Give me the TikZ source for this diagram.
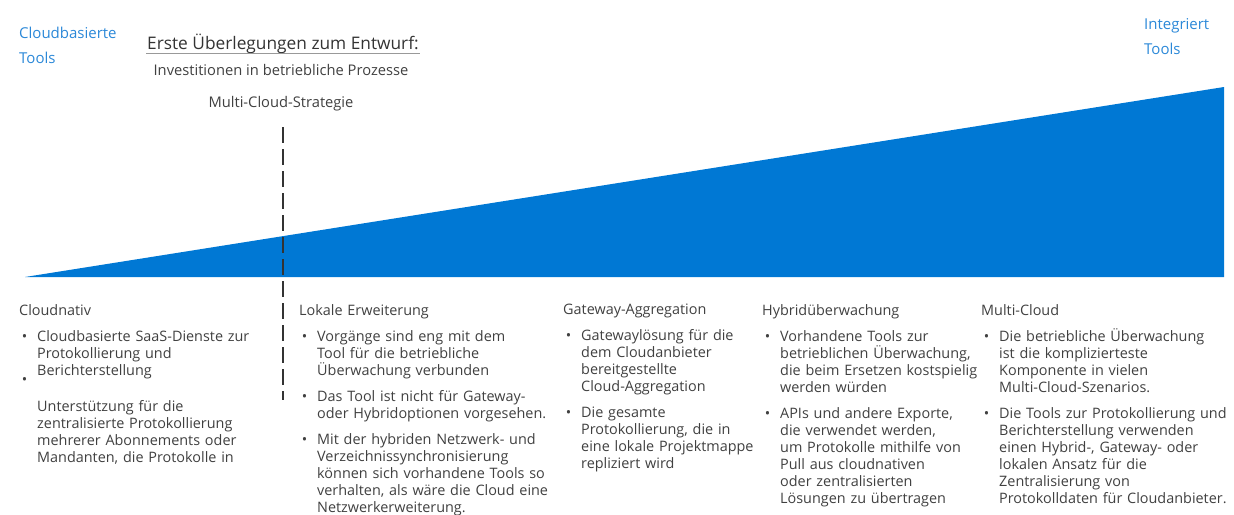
\documentclass[tikz,border=0pt]{standalone}
\usepackage{fontspec}
\setmainfont{Open Sans}
\usepackage{enumitem}
\definecolor{azblau}{HTML}{0078D4}
\definecolor{hellblau}{HTML}{2B88D8}
\definecolor{textgrau}{HTML}{404040}
\definecolor{dunkel}{HTML}{333333}
\setlist[itemize]{label=\textbullet,leftmargin=18pt,labelsep=10pt,
  topsep=9pt,partopsep=0pt,parsep=0pt,itemsep=9pt}
\newcommand{\spalte}[2]{%
  #1
  \begin{itemize}
    #2
  \end{itemize}
}

\begin{document}
\begin{tikzpicture}[x=1pt,y=-1pt,
      every node/.style={inner sep=0pt,text=textgrau},
      blau/.style={text=hellblau,anchor=north west,align=left,
        font=\fontsize{15}{25}\selectfont},
      spalte/.style={anchor=north west,align=left,
        font=\fontsize{14.4}{17}\selectfont},
      unter/.style={anchor=base,font=\fontsize{14.7}{17}\selectfont},
      grenze/.style={draw=dunkel,line width=2.6pt,dash pattern=on 16pt off 6pt}
    ]
      \useasboundingbox (0,0) rectangle (1234,514);
      % Keil
      \fill[azblau] (25,277) -- (1224,277) -- (1224,87) -- cycle;

      % Beschriftung oben
      \node[blau] (cloudtools) at (19,27) {Cloudbasierte\\Tools};
      \node[blau] (inttools) at (1144,18) {Integriert\\Tools};
      \node[anchor=base west,text=dunkel,font=\fontsize{17.3}{20}\selectfont]
        (entwurf) at (147,49) {Erste Überlegungen zum Entwurf:};
      \draw[gray!80,line width=1.6pt] ([xshift=-1pt,yshift=-4.5pt]entwurf.base west)
        -- ([xshift=1pt,yshift=-4.5pt]entwurf.base east);
      \node[unter] (invest) at (281,75) {Investitionen in betriebliche Prozesse};
      \node[unter] (strategie) at (281,107) {Multi-Cloud-Strategie};

      % Trennlinie
      \coordinate (oben) at (283,127);
      \coordinate (unten) at (283,400);
      \draw[grenze] (oben) -- (unten);

      % Spalten
      \node[spalte,text width=260pt] (nativ) at (19,304) {\spalte{Cloudnativ}{%
        \item Cloudbasierte SaaS-Dienste zur\\ Protokollierung und\\ Berichterstellung
        \vspace{-17pt}
        \item \leavevmode\\[10pt] Unterstützung für die\\ zentralisierte Protokollierung\\
          mehrerer Abonnements oder\\ Mandanten, die Protokolle in}};
      \node[spalte,text width=255pt] (lokal) at (299,304) {\spalte{Lokale Erweiterung}{%
        \item Vorgänge sind eng mit dem\\ Tool für die betriebliche\\ Überwachung verbunden
        \item Das Tool ist nicht für Gateway-\\ oder Hybridoptionen vorgesehen.
        \item Mit der hybriden Netzwerk- und\\ Verzeichnissynchronisierung\\
          können sich vorhandene Tools so\\ verhalten, als wäre die Cloud eine\\
          Netzwerkerweiterung.}};
      \node[spalte,text width=200pt] (gateway) at (563,304) {\spalte{Gateway-Aggregation}{%
        \item Gatewaylösung für die\\ dem Cloudanbieter\\ bereitgestellte\\ Cloud-Aggregation
        \item Die gesamte\\ Protokollierung, die in\\ eine lokale Projektmappe\\
          repliziert wird}};
      \node[spalte,text width=215pt] (hybrid) at (762,304) {\spalte{Hybridüberwachung}{%
        \item Vorhandene Tools zur\\ betrieblichen Überwachung,\\
          die beim Ersetzen kostspielig\\ werden würden
        \item APIs und andere Exporte,\\ die verwendet werden,\\
          um Protokolle mithilfe von\\ Pull aus cloudnativen\\ oder zentralisierten\\
          Lösungen zu übertragen}};
      \node[spalte,text width=253pt] (multi) at (981,304) {\spalte{Multi-Cloud}{%
        \item Die betriebliche Überwachung\\ ist die komplizierteste\\
          Komponente in vielen\\ Multi-Cloud-Szenarios.
        \item Die Tools zur Protokollierung und\\ Berichterstellung verwenden\\
          einen Hybrid-, Gateway- oder\\ lokalen Ansatz für die\\
          Zentralisierung von\\ Protokolldaten für Cloudanbieter.}};
    \end{tikzpicture}
\end{document}
